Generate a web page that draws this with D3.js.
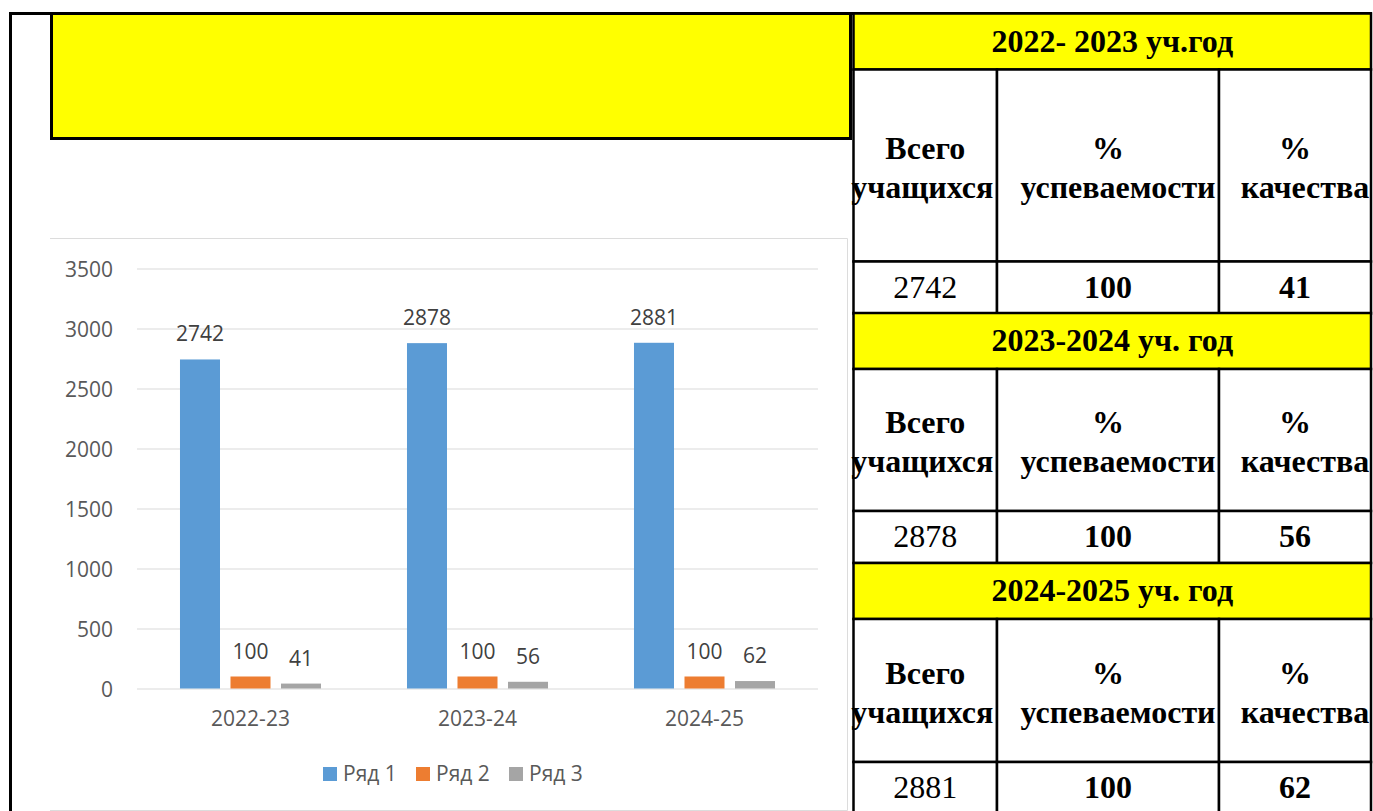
<!DOCTYPE html>
<html>
<head>
<meta charset="utf-8">
<script src="https://cdn.jsdelivr.net/npm/d3@7"></script>
<style>
  html, body { margin: 0; padding: 0; background: #fff; }
  svg { display: block; }
</style>
</head>
<body>
<svg id="root"></svg>
<script>
// chart data
const categories = ["2022-23", "2023-24", "2024-25"];
const seriesNames = ["Ряд 1", "Ряд 2", "Ряд 3"];
const students = [2742, 2878, 2881];   // Ряд 1
const progress = [100, 100, 100];      // Ряд 2
const quality = [41, 56, 62];          // Ряд 3
const yTicks = [0, 500, 1000, 1500, 2000, 2500, 3000, 3500];

// table texts
const yearTitles = ["2022- 2023 уч.год", "2023-2024 уч. год", "2024-2025 уч. год"];
const colTitles = [["Всего", "учащихся"], ["%", "успеваемости"], ["%", "качества"]];

const W = 1373, H = 811;
const colors = ["#5B9BD5", "#ED7D31", "#A5A5A5"];
const chartFont = "'Open Sans', 'Noto Sans', sans-serif";
const tableFont = "'Liberation Serif', 'Times New Roman', serif";

const svg = d3.select("#root")
    .attr("width", W)
    .attr("height", H)
    .attr("viewBox", [0, 0, W, H]);

// page frame lines
svg.append("line")
    .attr("x1", 9).attr("x2", 1372).attr("y1", 13.5).attr("y2", 13.5)
    .attr("stroke", "#000").attr("stroke-width", 3);
svg.append("line")
    .attr("x1", 10.5).attr("x2", 10.5).attr("y1", 12).attr("y2", H)
    .attr("stroke", "#000").attr("stroke-width", 3);

// empty yellow title box
svg.append("rect")
    .attr("x", 51.5).attr("y", 13.5)
    .attr("width", 799).attr("height", 125)
    .attr("fill", "#FFFF00")
    .attr("stroke", "#000").attr("stroke-width", 3);

// chart area frame (left side is not visible in the picture)
svg.append("path")
    .attr("d", "M50,238.5H847.5V810.5H50")
    .attr("fill", "none")
    .attr("stroke", "#dcdcdc");

// ---------- bar chart ----------
const plot = { left: 137, right: 818, top: 268.5, bottom: 688.5 };

const data = categories.map((c, i) => ({
    name: c,
    values: [students[i], progress[i], quality[i]]
}));

const x0 = d3.scaleBand()
    .domain(categories)
    .range([plot.left, plot.right]);

const x1 = d3.scaleBand()
    .domain(d3.range(seriesNames.length))
    .range([0, x0.bandwidth()])
    .paddingInner(0.208)
    .paddingOuter(0.851);

const y = d3.scaleLinear()
    .domain([0, 3500])
    .range([plot.bottom, plot.top]);

const color = d3.scaleOrdinal()
    .domain(d3.range(seriesNames.length))
    .range(colors);

// gridlines + y labels
svg.append("g")
    .attr("transform", `translate(${plot.left},0)`)
    .call(d3.axisLeft(y).tickValues(yTicks).tickFormat(d3.format("d"))
        .tickSize(-(plot.right - plot.left)).tickPadding(24))
    .call(g => g.select(".domain").remove())
    .call(g => g.selectAll(".tick line").attr("stroke", "#d9d9d9").attr("stroke-width", 1.2))
    .call(g => g.selectAll(".tick text")
        .attr("dy", "0.4em")
        .attr("fill", "#595959")
        .style("font", `21px ${chartFont}`));

// x labels
svg.append("g")
    .attr("transform", `translate(0,${plot.bottom})`)
    .call(d3.axisBottom(x0).tickSize(0).tickPadding(23))
    .call(g => g.select(".domain").remove())
    .call(g => g.selectAll(".tick text")
        .attr("fill", "#595959")
        .style("font", `21px ${chartFont}`));

// bars
const groups = svg.append("g")
    .selectAll("g")
    .data(data)
    .join("g")
    .attr("transform", d => `translate(${x0(d.name)},0)`);

groups.selectAll("rect")
    .data(d => d.values.map((v, k) => ({ k, v })))
    .join("rect")
    .attr("x", d => x1(d.k))
    .attr("y", d => y(d.v))
    .attr("width", x1.bandwidth())
    .attr("height", d => y(0) - y(d.v))
    .attr("fill", d => color(d.k));

// data labels
groups.selectAll("text")
    .data(d => d.values.map((v, k) => ({ k, v })))
    .join("text")
    .attr("x", d => x1(d.k) + x1.bandwidth() / 2)
    .attr("y", d => y(d.v) - 18)
    .attr("text-anchor", "middle")
    .attr("fill", "#404040")
    .style("font", `21px ${chartFont}`)
    .text(d => d.v);

// legend
const legend = svg.append("g")
    .attr("transform", "translate(323,767)");

const item = legend.selectAll("g")
    .data(seriesNames)
    .join("g")
    .attr("transform", (d, i) => `translate(${i * 93},0)`);

item.append("rect")
    .attr("width", 14).attr("height", 14)
    .attr("fill", (d, i) => color(i));

item.append("text")
    .attr("x", 20).attr("y", 14)
    .attr("fill", "#595959")
    .style("font", `21px ${chartFont}`)
    .text(d => d);

// ---------- table ----------
const colX = [853.5, 997, 1219, 1371];
const blocks = [
    { top: 13.5, hdr: 56, tall: 192, val: 52 },
    { top: 313, hdr: 56, tall: 142, val: 52 },
    { top: 563, hdr: 56, tall: 143, val: 52 }
];

const table = svg.append("g")
    .style("font-family", tableFont)
    .style("font-weight", "bold")
    .style("font-size", "32px");

blocks.forEach((b, i) => {
    const g = table.append("g");
    const tallTop = b.top + b.hdr;
    const valTop = tallTop + b.tall;

    g.append("rect")
        .attr("x", colX[0]).attr("y", b.top)
        .attr("width", colX[3] - colX[0]).attr("height", b.hdr)
        .attr("fill", "#FFFF00")
        .attr("stroke", "#000").attr("stroke-width", 2.5);

    g.append("text")
        .attr("x", (colX[0] + colX[3]) / 2)
        .attr("y", b.top + b.hdr / 2 + 10)
        .attr("text-anchor", "middle")
        .text(yearTitles[i]);

    const vals = [students[i], progress[i], quality[i]];

    for (let c = 0; c < 3; c++) {
        const cx = (colX[c] + colX[c + 1]) / 2;

        g.append("rect")
            .attr("x", colX[c]).attr("y", tallTop)
            .attr("width", colX[c + 1] - colX[c]).attr("height", b.tall)
            .attr("fill", "#fff")
            .attr("stroke", "#000").attr("stroke-width", 2.5);

        g.append("rect")
            .attr("x", colX[c]).attr("y", valTop)
            .attr("width", colX[c + 1] - colX[c]).attr("height", b.val)
            .attr("fill", "#fff")
            .attr("stroke", "#000").attr("stroke-width", 2.5);

        const mid = tallTop + b.tall / 2;
        g.append("text")
            .attr("x", cx).attr("y", mid - 7)
            .attr("text-anchor", "middle")
            .text(colTitles[c][0]);
        g.append("text")
            .attr("x", cx + (c === 0 ? -3 : 10)).attr("y", mid + 32)
            .attr("text-anchor", "middle")
            .text(colTitles[c][1]);

        g.append("text")
            .attr("x", cx).attr("y", valTop + b.val / 2 + 10)
            .attr("text-anchor", "middle")
            .style("font-weight", c === 0 ? "normal" : "bold")
            .text(vals[c]);
    }
});
</script>
</body>
</html>
